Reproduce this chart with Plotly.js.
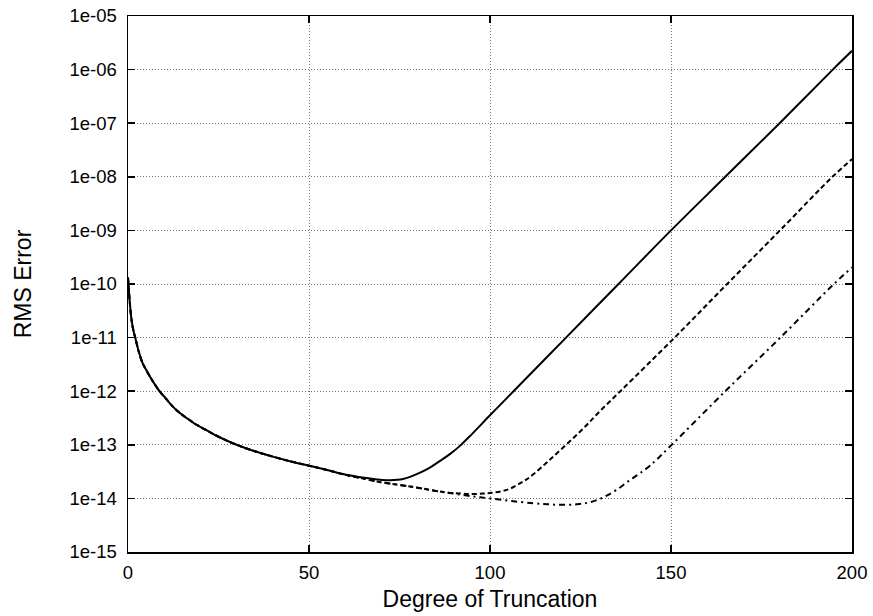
<!DOCTYPE html>
<html>
<head>
<meta charset="utf-8">
<script src="https://cdn.plot.ly/plotly-3.0.1.min.js"></script>
<style>
  html, body { margin: 0; padding: 0; background: #fff; }
  #chart { width: 873px; height: 616px; }
</style>
</head>
<body>
<div id="chart"></div>
<script>
// RMS error against truncation degree, three variants sharing the same early decay.
// Error values are stored as base-10 exponents (log10 of the RMS error).
const degSolid = [0, 0.5, 1, 1.5, 2, 3, 4, 5, 6, 7, 8.7, 10, 12, 14, 16.2, 19, 22, 25, 30, 35, 40, 45, 50, 55, 61, 67, 72.4, 76, 80.7, 83.5, 86.2, 89, 91.7, 95, 100, 106.5, 121, 135.5, 150, 165, 180, 194.7, 200];
const logErrSolid = [-9.88, -10.35, -10.68, -10.87, -11.0, -11.27, -11.47, -11.6, -11.72, -11.83, -12.0, -12.1, -12.26, -12.39, -12.5, -12.63, -12.74, -12.85, -13.0, -13.12, -13.22, -13.31, -13.39, -13.47, -13.57, -13.63, -13.66, -13.64, -13.52, -13.42, -13.30, -13.17, -13.02, -12.80, -12.45, -12.0, -11.0, -10.0, -9.0, -8.0, -7.0, -6.0, -5.65];

const degDashed = [0, 0.5, 1, 1.5, 2, 3, 4, 5, 6, 7, 8.7, 10, 12, 14, 16.2, 19, 22, 25, 30, 35, 40, 45, 50, 55, 60, 65, 70, 75, 80, 85, 88, 92, 95, 98, 100, 103, 105.5, 108, 110, 112, 116, 121, 126, 130.4, 136, 151, 165.5, 180.1, 194.6, 200];
const logErrDashed = [-9.88, -10.35, -10.68, -10.87, -11.0, -11.27, -11.47, -11.6, -11.72, -11.83, -12.0, -12.1, -12.26, -12.39, -12.5, -12.63, -12.74, -12.85, -13.0, -13.12, -13.22, -13.31, -13.39, -13.47, -13.56, -13.63, -13.70, -13.75, -13.80, -13.86, -13.89, -13.91, -13.92, -13.91, -13.90, -13.87, -13.82, -13.73, -13.65, -13.55, -13.31, -13.0, -12.68, -12.37, -12.0, -11.0, -10.0, -9.0, -8.0, -7.67];

const degDashDot = [0, 0.5, 1, 1.5, 2, 3, 4, 5, 6, 7, 8.7, 10, 12, 14, 16.2, 19, 22, 25, 30, 35, 40, 45, 50, 55, 60, 65, 70, 75, 80, 85, 88, 92, 96, 100, 106, 112, 116, 120, 124, 127, 130, 132.2, 135, 137.8, 141, 144.2, 150.2, 165, 180.2, 195, 200];
const logErrDashDot = [-9.88, -10.35, -10.68, -10.87, -11.0, -11.27, -11.47, -11.6, -11.72, -11.83, -12.0, -12.1, -12.26, -12.39, -12.5, -12.63, -12.74, -12.85, -13.0, -13.12, -13.22, -13.31, -13.39, -13.47, -13.56, -13.63, -13.70, -13.75, -13.80, -13.86, -13.89, -13.93, -13.97, -14.0, -14.05, -14.09, -14.11, -14.12, -14.11, -14.08, -14.02, -13.95, -13.84, -13.70, -13.55, -13.39, -13.0, -12.0, -11.0, -10.0, -9.69];

const yTickVals = [1e-15, 1e-14, 1e-13, 1e-12, 1e-11, 1e-10, 1e-9, 1e-8, 1e-7, 1e-6, 1e-5];
const yTickText = ["1e-15", "1e-14", "1e-13", "1e-12", "1e-11", "1e-10", "1e-09", "1e-08", "1e-07", "1e-06", "1e-05"];
const xTickVals = [0, 50, 100, 150, 200];

const FONT = "'Liberation Sans', Arial, Helvetica, sans-serif";

function series(x, logY, dash) {
  return {
    x: x, y: logY.map(v => Math.pow(10, v)), type: 'scatter', mode: 'lines',
    line: { color: '#000', width: 2, dash: dash, shape: 'spline', smoothing: 1 },
    hoverinfo: 'skip', showlegend: false
  };
}

const traces = [
  series(degDashDot, logErrDashDot, '6px,4px,2px,4px'),
  series(degDashed, logErrDashed, '5px,3px'),
  series(degSolid, logErrSolid, 'solid')
];

const axisCommon = {
  showline: true, linecolor: '#000', linewidth: 1.5, mirror: 'ticks',
  ticks: 'inside', ticklen: 7, tickwidth: 1.5, tickcolor: '#000',
  showgrid: true, gridcolor: '#777', gridwidth: 1, griddash: '1px,2px',
  zeroline: false,
  tickfont: { family: FONT, size: 18.5, color: '#000' }
};

const layout = {
  width: 873, height: 616,
  margin: { l: 128, r: 21, t: 16, b: 64 },
  paper_bgcolor: '#fff', plot_bgcolor: '#fff',
  font: { family: FONT, color: '#000' },
  xaxis: Object.assign({}, axisCommon, {
    range: [0, 200], tickmode: 'array', tickvals: xTickVals,
    ticklabelstandoff: 3,
    title: { text: 'Degree of Truncation', font: { family: FONT, size: 23, color: '#000' }, standoff: 9 }
  }),
  yaxis: Object.assign({}, axisCommon, {
    type: 'log', range: [-15, -5], tickmode: 'array',
    tickvals: yTickVals, ticktext: yTickText,
    ticklabelstandoff: 6,
    title: { text: 'RMS Error', font: { family: FONT, size: 23, color: '#000' }, standoff: 31 }
  })
};

Plotly.newPlot('chart', traces, layout, { staticPlot: true, displayModeBar: false });
</script>
</body>
</html>
